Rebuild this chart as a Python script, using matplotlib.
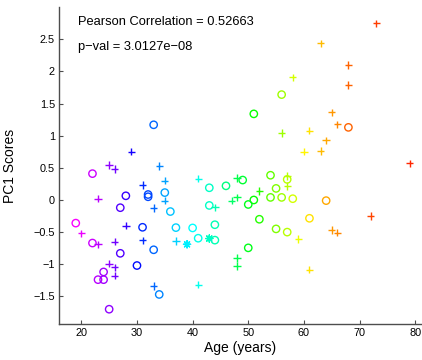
import colorsys

import matplotlib
matplotlib.use('Agg')
from matplotlib import pyplot as plt
import numpy as np

plt.rcParams['font.family'] = ['Liberation Sans', 'DejaVu Sans']

# circles
circle_age = [22, 28, 32, 32, 35, 27, 36, 19, 31, 37, 40, 41, 22, 33, 27, 30, 24, 23, 24, 34, 25, 33,
              56, 51, 43, 46, 49, 54, 57, 55, 51, 50, 54, 56, 58, 64, 43, 44, 52, 61, 55, 57, 44, 50, 68]
circle_pc1 = [0.41, 0.065, 0.085, 0.05, 0.115, -0.12, -0.18, -0.36, -0.425, -0.43, -0.435, -0.595, -0.67,
              -0.775, -0.83, -1.02, -1.12, -1.24, -1.24, -1.47, -1.70, 1.17,
              1.64, 1.34, 0.19, 0.22, 0.31, 0.385, 0.32, 0.18, 0.0, -0.07, 0.04, 0.04, 0.02, -0.01,
              -0.085, -0.385, -0.30, -0.285, -0.45, -0.50, -0.625, -0.745, 1.13]

# plus signs
plus_age = [29, 25, 26, 34, 35, 41, 31, 23, 35, 33, 20, 28, 37, 23, 26, 31, 25, 26, 26, 33, 41,
            58, 56, 61, 64, 60, 63, 48, 57, 57, 52, 48, 47, 44, 59, 48, 48, 61,
            73, 63, 68, 68, 65, 66, 79, 72, 65, 66]
plus_pc1 = [0.75, 0.545, 0.48, 0.53, 0.30, 0.33, 0.235, 0.02, -0.01, -0.125, -0.52, -0.40, -0.64, -0.69,
            -0.65, -0.63, -0.99, -1.05, -1.18, -1.34, -1.32,
            1.91, 1.045, 1.08, 0.93, 0.75, 0.76, 0.34, 0.375, 0.215, 0.14, 0.04, -0.01, -0.115, -0.605,
            -0.905, -1.03, -1.085,
            2.75, 2.44, 2.10, 1.79, 1.365, 1.175, 0.57, -0.25, -0.465, -0.51]

# asterisks
star_age = [39, 43]
star_pc1 = [-0.69, -0.60]

pearson_r = 0.52663
p_val = '3.0127e\u221208'

# age -> hue (magenta for young, red for old)
hue_age = [19, 22, 25, 30, 33, 36, 40, 44, 50, 56, 60, 64, 68, 73, 79]
hue_val = [0.83, 0.8, 0.76, 0.66, 0.6, 0.54, 0.5, 0.45, 0.35, 0.23, 0.16, 0.11, 0.065, 0.04, 0.025]


def age_colors(ages):
    return [colorsys.hsv_to_rgb(np.interp(a, hue_age, hue_val), 1, 1) for a in ages]


fig = plt.figure(figsize=(4.22, 3.6), dpi=100)
ax = fig.add_axes([0.14, 0.1, 0.857, 0.88])

ax.scatter(circle_age, circle_pc1, s=28, facecolors='none', edgecolors=age_colors(circle_age), linewidths=1.0)
ax.scatter(plus_age, plus_pc1, s=28, marker='+', c=age_colors(plus_age), linewidths=1.0)
ax.scatter(star_age, star_pc1, s=26, marker=(8, 2, 0), c=age_colors(star_age), linewidths=1.0)

ax.set_xlim(16, 81)
ax.set_ylim(-1.93, 3.0)
ax.set_xticks([20, 30, 40, 50, 60, 70, 80])
ax.set_yticks([-1.5, -1, -0.5, 0, 0.5, 1, 1.5, 2, 2.5])
ax.set_yticklabels(['\u22121.5', '\u22121', '\u22120.5', '0', '0.5', '1', '1.5', '2', '2.5'])
ax.tick_params(direction='in', length=3, width=0.8, labelsize=7.8, pad=3, color='0.3')
for side in ['top', 'right']:
    ax.spines[side].set_visible(False)
for side in ['left', 'bottom']:
    ax.spines[side].set_color('0.3')
    ax.spines[side].set_linewidth(1.0)

ax.set_xlabel('Age (years)', fontsize=10, labelpad=2)
ax.set_ylabel('PC1 Scores', fontsize=10)
ax.yaxis.set_label_coords(-0.115, 0.5)

ax.text(19.45, 2.77, 'Pearson Correlation = %.5f' % pearson_r, fontsize=9.3, va='center', ha='left')
ax.text(19.45, 2.385, 'p\u2212val = ' + p_val, fontsize=9.3, va='center', ha='left')

fig.savefig('out.png', dpi=100)
